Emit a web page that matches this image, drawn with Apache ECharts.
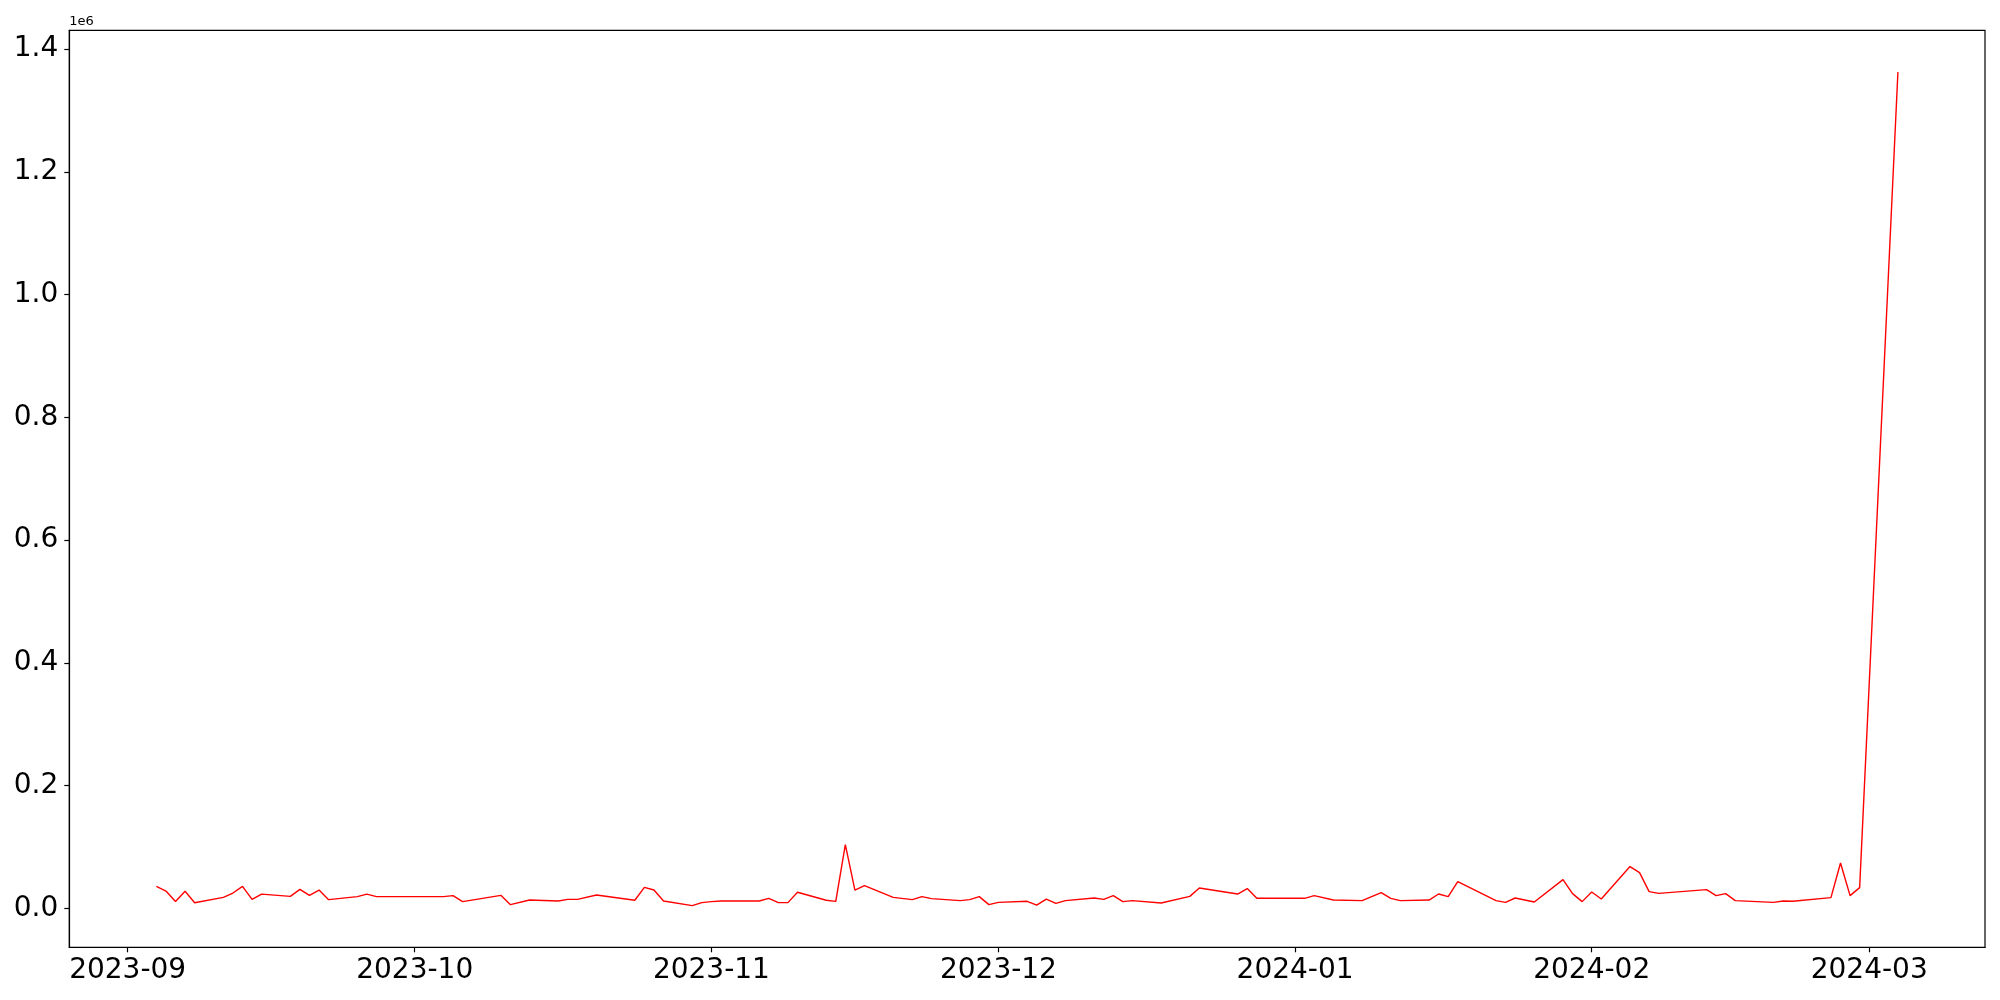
<!DOCTYPE html>
<html>
<head>
<meta charset="utf-8">
<script src="https://cdn.jsdelivr.net/npm/echarts@6/dist/echarts.min.js"></script>
<style>html,body{margin:0;padding:0;background:#fff}#c{width:2000px;height:1000px}</style>
</head>
<body>
<div id="c"></div>
<script>
const dates = ['2023-09-04','2023-09-05','2023-09-06','2023-09-07','2023-09-08','2023-09-11','2023-09-12','2023-09-13','2023-09-14','2023-09-15','2023-09-18','2023-09-19','2023-09-20','2023-09-21','2023-09-22','2023-09-25','2023-09-26','2023-09-27','2023-10-04','2023-10-05','2023-10-06','2023-10-10','2023-10-11','2023-10-13','2023-10-16','2023-10-17','2023-10-18','2023-10-20','2023-10-24','2023-10-25','2023-10-26','2023-10-27','2023-10-30','2023-10-31','2023-11-01','2023-11-02','2023-11-06','2023-11-07','2023-11-08','2023-11-09','2023-11-10','2023-11-13','2023-11-14','2023-11-15','2023-11-16','2023-11-17','2023-11-20','2023-11-22','2023-11-23','2023-11-24','2023-11-27','2023-11-28','2023-11-29','2023-11-30','2023-12-01','2023-12-04','2023-12-05','2023-12-06','2023-12-07','2023-12-08','2023-12-11','2023-12-12','2023-12-13','2023-12-14','2023-12-15','2023-12-18','2023-12-21','2023-12-22','2023-12-26','2023-12-27','2023-12-28','2024-01-02','2024-01-03','2024-01-05','2024-01-08','2024-01-10','2024-01-11','2024-01-12','2024-01-15','2024-01-16','2024-01-17','2024-01-18','2024-01-22','2024-01-23','2024-01-24','2024-01-26','2024-01-29','2024-01-30','2024-01-31','2024-02-01','2024-02-02','2024-02-05','2024-02-06','2024-02-07','2024-02-08','2024-02-13','2024-02-14','2024-02-15','2024-02-16','2024-02-20','2024-02-21','2024-02-22','2024-02-26','2024-02-27','2024-02-28','2024-02-29','2024-03-04'];
const values = [35900,28200,11200,27800,9200,18000,25000,35900,14700,23200,19600,31000,21200,29900,14200,19200,23200,19200,19200,20800,11000,21200,6100,13600,12000,14700,14700,21800,13200,34200,29900,12000,4500,9400,11000,12000,12000,16400,9400,9400,26200,13200,11500,103900,29900,37100,18000,14200,19200,15900,12600,14200,19200,6100,9800,11500,5400,15200,8200,12600,16900,14700,20800,11000,12600,8700,19600,33200,23400,32200,16400,16400,20800,13600,12600,25700,16400,12600,13600,23400,19200,43600,12600,9800,16900,10300,46900,24000,11000,26600,15200,68100,58200,27200,24500,30600,20800,24000,12600,9800,12000,11500,17500,73900,20800,33800,1362600];
const xTickDates = ['2023-09-01','2023-10-01','2023-11-01','2023-12-01','2024-01-01','2024-02-01','2024-03-01'];
const xTickLabels = ['2023-09','2023-10','2023-11','2023-12','2024-01','2024-02','2024-03'];
const yTickValues = [0,200000,400000,600000,800000,1000000,1200000,1400000];
const yTickLabels = ['0.0','0.2','0.4','0.6','0.8','1.0','1.2','1.4'];
const yOffsetText = '1e6';

const DAY = 86400000;
function toDay(s){const p=s.split('-').map(Number);return Date.UTC(p[0],p[1]-1,p[2])/DAY;}
const xs = dates.map(toDay);
const x0 = Math.min(...xs), x1 = Math.max(...xs), xspan = x1 - x0;
const v0 = Math.min(...values), v1 = Math.max(...values), vspan = v1 - v0;
const xTickPos = xTickDates.map(toDay);
const labelMap = {};
xTickPos.forEach((m,i)=>{labelMap[m]=xTickLabels[i];});
const yLabelMap = {};
yTickValues.forEach((v,i)=>{yLabelMap[v]=yTickLabels[i];});

const font = 'DejaVu Sans';
const chart = echarts.init(document.getElementById('c'), null, {renderer:'canvas'});
chart.setOption({
  animation:false,
  backgroundColor:'#fff',
  grid:{left:69.3,right:15,top:30.3,bottom:52.7,show:true,borderColor:'#000',borderWidth:1.2,backgroundColor:'transparent'},
  xAxis:{
    type:'value',
    min:x0-0.05*xspan, max:x1+0.05*xspan,
    axisLine:{show:true,onZero:false,lineStyle:{color:'#000',width:1.2}},
    axisTick:{show:true,inside:false,length:5,lineStyle:{color:'#000',width:1.2},customValues:xTickPos},
    axisLabel:{show:true,margin:9,fontFamily:font,fontSize:28,color:'#000',customValues:xTickPos,
      formatter:function(v){return labelMap[v]!==undefined?labelMap[v]:'';}},
    splitLine:{show:false}
  },
  yAxis:{
    type:'value',
    min:v0-0.05*vspan, max:v1+0.05*vspan,
    name:yOffsetText, nameLocation:'end', nameGap:2,
    nameTextStyle:{fontFamily:font,fontSize:13,color:'#000',align:'left',verticalAlign:'bottom'},
    axisLine:{show:true,onZero:false,lineStyle:{color:'#000',width:1.2}},
    axisTick:{show:true,inside:false,length:5,lineStyle:{color:'#000',width:1.2},customValues:yTickValues},
    axisLabel:{show:true,margin:11,fontFamily:font,fontSize:28,color:'#000',customValues:yTickValues,
      formatter:function(v){return yLabelMap[v]!==undefined?yLabelMap[v]:'';}},
    splitLine:{show:false}
  },
  series:[{
    type:'line',
    data:xs.map((x,i)=>[x,values[i]]),
    showSymbol:false,
    symbol:'none',
    lineStyle:{color:'#ff0000',width:1.4},
    itemStyle:{color:'#ff0000'}
  }]
});
</script>
</body>
</html>
